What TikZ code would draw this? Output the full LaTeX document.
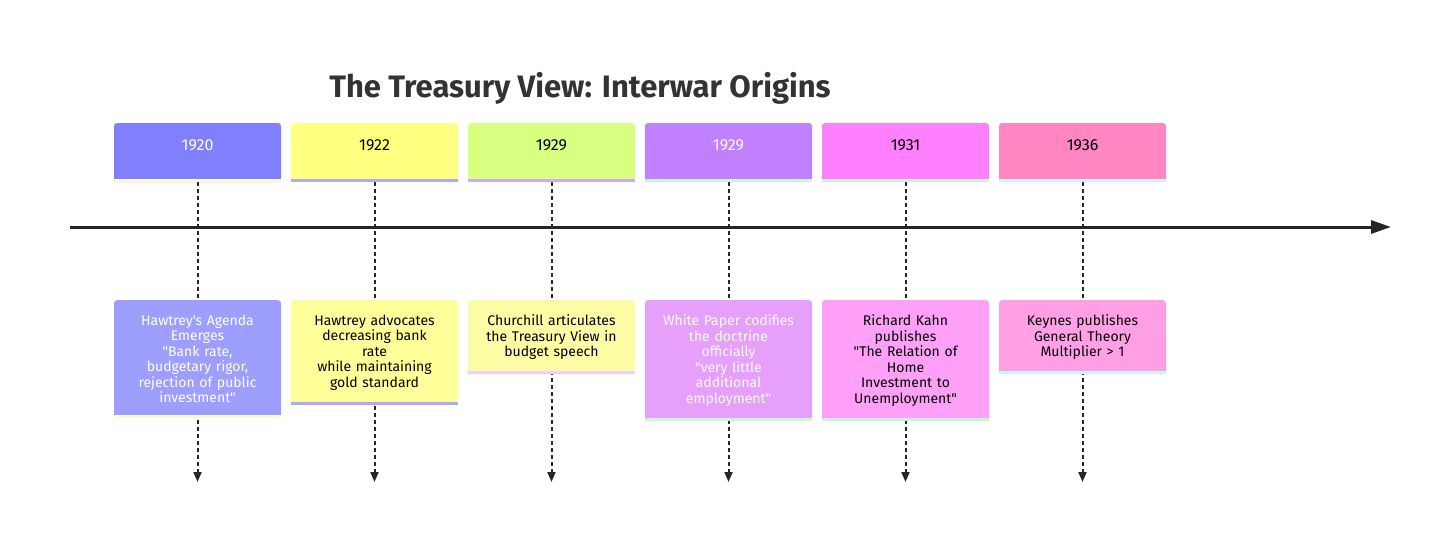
\documentclass[tikz,border=0pt]{standalone}
\usepackage{fontspec}
\setmainfont{Fira Sans}[Ligatures=TeXOff]
\usepackage{tikz}
\usetikzlibrary{arrows.meta,backgrounds}

\definecolor{titlegray}{RGB}{51,51,51}
\definecolor{yA}{RGB}{128,128,255}
\definecolor{yB}{RGB}{255,255,128}
\definecolor{yC}{RGB}{217,255,128}
\definecolor{yD}{RGB}{193,128,255}
\definecolor{yE}{RGB}{255,128,255}
\definecolor{yF}{RGB}{255,134,194}
\definecolor{eA}{RGB}{158,158,255}
\definecolor{eB}{RGB}{255,255,153}
\definecolor{eC}{RGB}{252,252,165}
\definecolor{eD}{RGB}{230,160,252}
\definecolor{eE}{RGB}{255,160,248}
\definecolor{eF}{RGB}{255,160,230}
\definecolor{sA}{RGB}{250,250,205}
\definecolor{sB}{RGB}{170,170,255}
\definecolor{sC}{RGB}{205,170,255}
\definecolor{sD}{RGB}{200,250,205}
\definecolor{sE}{RGB}{200,245,215}
\definecolor{sF}{RGB}{205,245,240}
\definecolor{sCe}{RGB}{240,205,250}

\begin{document}
\begin{tikzpicture}[x=1pt,y=-1pt,
  yearbox/.style={rectangle,rounded corners=3pt,minimum width=167pt,minimum height=59pt,
     inner sep=0pt,text height=11pt,text depth=15pt,font=\fontsize{16}{18}\selectfont},
  eventbox/.style={rectangle,rounded corners=3pt,anchor=north,minimum width=167pt,
     text width=163pt,align=center,inner xsep=2pt,inner ysep=14.5pt,
     font=\fontsize{14}{15.5}\selectfont},
  dline/.style={line width=2pt,dash pattern=on 4pt off 3pt,black!85,
     -{Triangle[length=10pt,width=8pt]}},
  axis/.style={line width=3pt,black!85,-{Triangle[length=20pt,width=13pt]}}]
   \useasboundingbox (0,0) rectangle (1456,549);

   \node[font=\fontsize{31}{36}\selectfont\bfseries,text=titlegray] (title) at (580,88) {The Treasury View: Interwar Origins};

   % years
   \node[yearbox,fill=yA,text=white] (y1920) at (197.5,152.5) {1920};
   \node[yearbox,fill=yB] (y1922) at (374.5,152.5) {1922};
   \node[yearbox,fill=yC] (y1929a) at (551.5,152.5) {1929};
   \node[yearbox,fill=yD,text=white] (y1929b) at (728.5,152.5) {1929};
   \node[yearbox,fill=yE] (y1931) at (905.5,152.5) {1931};
   \node[yearbox,fill=yF] (y1936) at (1082.5,152.5) {1936};

   % events
   \node[eventbox,fill=eA,text=white] (e1920) at (197.5,300) {Hawtrey's Agenda\\Emerges\\"Bank rate,\\budgetary rigor,\\rejection of public\\investment"};
   \node[eventbox,fill=eB] (e1922) at (374.5,300) {Hawtrey advocates\\decreasing bank\\rate\\while maintaining\\gold standard};
   \node[eventbox,fill=eC] (e1929a) at (551.5,300) {Churchill articulates\\the Treasury View in\\budget speech};
   \node[eventbox,fill=eD,text=white] (e1929b) at (728.5,300) {White Paper codifies\\the doctrine\\officially\\"very little\\additional\\employment"};
   \node[eventbox,fill=eE] (e1931) at (905.5,300) {Richard Kahn\\publishes\\"The Relation of\\Home\\Investment to\\Unemployment"};
   \node[eventbox,fill=eF] (e1936) at (1082.5,300) {Keynes publishes\\General Theory\\Multiplier > 1};

   % bottom lines of the boxes
   \fill[sA] ([yshift=3pt]y1920.south west) rectangle (y1920.south east);
   \fill[sB] ([yshift=3pt]y1922.south west) rectangle (y1922.south east);
   \fill[sC] ([yshift=3pt]y1929a.south west) rectangle (y1929a.south east);
   \fill[sD] ([yshift=3pt]y1929b.south west) rectangle (y1929b.south east);
   \fill[sE] ([yshift=3pt]y1931.south west) rectangle (y1931.south east);
   \fill[sF] ([yshift=3pt]y1936.south west) rectangle (y1936.south east);
   \fill[sA] ([yshift=3pt]e1920.south west) rectangle (e1920.south east);
   \fill[sB] ([yshift=3pt]e1922.south west) rectangle (e1922.south east);
   \fill[sCe] ([yshift=3pt]e1929a.south west) rectangle (e1929a.south east);
   \fill[sD] ([yshift=3pt]e1929b.south west) rectangle (e1929b.south east);
   \fill[sE] ([yshift=3pt]e1931.south west) rectangle (e1931.south east);
   \fill[sF] ([yshift=3pt]e1936.south west) rectangle (e1936.south east);

   % time axis
   \coordinate (tstart) at (70,227);
   \coordinate (tend) at (1391,227);
   \draw[axis] (tstart) -- (tend);

   \coordinate (end1920) at (197.5,482);
   \coordinate (end1922) at (374.5,482);
   \coordinate (end1929a) at (551.5,482);
   \coordinate (end1929b) at (728.5,482);
   \coordinate (end1931) at (905.5,482);
   \coordinate (end1936) at (1082.5,482);
   \begin{scope}[on background layer]
     \draw[dline] (y1920.south) -- (end1920);
     \draw[dline] (y1922.south) -- (end1922);
     \draw[dline] (y1929a.south) -- (end1929a);
     \draw[dline] (y1929b.south) -- (end1929b);
     \draw[dline] (y1931.south) -- (end1931);
     \draw[dline] (y1936.south) -- (end1936);
   \end{scope}
\end{tikzpicture}
\end{document}
